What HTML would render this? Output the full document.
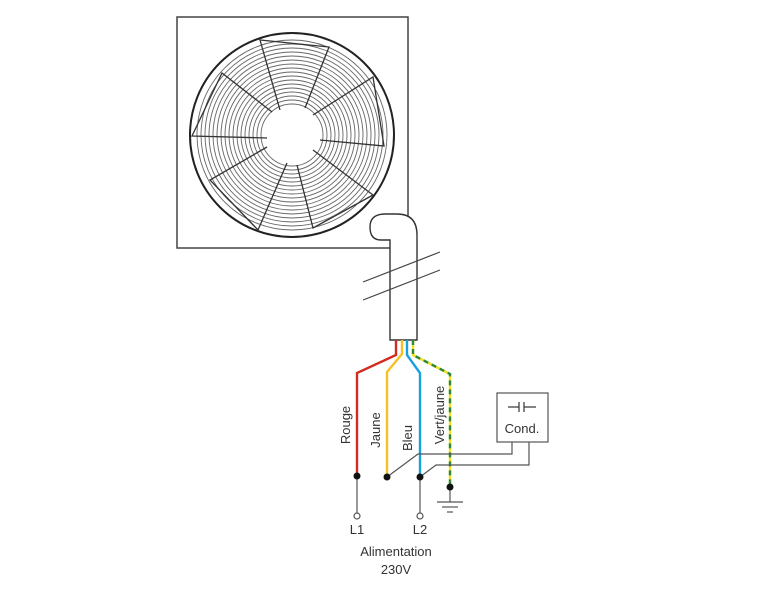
<!DOCTYPE html>
<html><head><meta charset="utf-8"><style>
html,body{margin:0;padding:0;background:#fff;}
svg{display:block;}
text{font-family:"Liberation Sans",sans-serif;fill:#333;}
</style></head><body>
<svg width="771" height="591" viewBox="0 0 771 591" xmlns="http://www.w3.org/2000/svg">
<rect x="177" y="17" width="231" height="231" fill="#fff" stroke="#444" stroke-width="1.5"/>
<g fill="none" stroke="#666" stroke-width="0.9">
<circle cx="292" cy="135" r="31"/><circle cx="292" cy="135" r="35"/><circle cx="292" cy="135" r="39"/><circle cx="292" cy="135" r="43"/><circle cx="292" cy="135" r="47"/><circle cx="292" cy="135" r="51"/><circle cx="292" cy="135" r="55"/><circle cx="292" cy="135" r="59"/><circle cx="292" cy="135" r="63"/><circle cx="292" cy="135" r="67"/><circle cx="292" cy="135" r="71"/><circle cx="292" cy="135" r="75"/><circle cx="292" cy="135" r="79"/><circle cx="292" cy="135" r="83"/><circle cx="292" cy="135" r="87"/><circle cx="292" cy="135" r="91"/><circle cx="292" cy="135" r="95"/>
</g>
<circle cx="292" cy="135" r="102" fill="none" stroke="#222" stroke-width="2"/>
<circle cx="292" cy="135" r="28" fill="#fff"/>
<g fill="none" stroke="#333" stroke-width="1.3">
<polyline points="280,110 260,40 329,47 305,108"/>
<polyline points="313,115 373,77 384,146 320,140"/>
<polyline points="313,150 373,195 313,228 297,165"/>
<polyline points="287,163 258,230 210,180 267,147"/>
<polyline points="267,138 192,136 222,73 272,112"/>
</g>
<path d="M390,340 V240 H381 Q370,240 370,227 Q370,214 385,214 H397 Q417,214 417,235 V340 Z" fill="#fff" stroke="#333" stroke-width="1.4"/>
<line x1="363" y1="282" x2="440" y2="252" stroke="#444" stroke-width="1.2"/>
<line x1="363" y1="300" x2="440" y2="270" stroke="#444" stroke-width="1.2"/>
<g fill="none" stroke-width="2.4">
<polyline points="396,340 396,355 357,373 357,476" stroke="#d42a1e"/>
<polyline points="402,340 402,354 387,372 387,477" stroke="#f5c020"/>
<polyline points="407,340 407,355 420,373 420,477" stroke="#1aa0e0"/>
<polyline points="413,340 413,355 450,374 450,487" stroke="#f0e020"/>
<polyline points="413,340 413,355 450,374 450,487" stroke="#2a8a3a" stroke-dasharray="5,4"/>
</g>
<g fill="none" stroke="#555" stroke-width="1.2">
<line x1="357" y1="476" x2="357" y2="513"/>
<line x1="420" y1="477" x2="420" y2="513"/>
<polyline points="512,442 512,454 418,454 387,477"/>
<polyline points="529,442 529,465 436,465 420,477"/>
<line x1="450" y1="487" x2="450" y2="502"/>
<line x1="437" y1="502" x2="463" y2="502"/>
<line x1="442" y1="507" x2="458" y2="507"/>
<line x1="447" y1="512" x2="453" y2="512"/>
</g>
<circle cx="357" cy="516" r="3" fill="#fff" stroke="#555" stroke-width="1.2"/>
<circle cx="420" cy="516" r="3" fill="#fff" stroke="#555" stroke-width="1.2"/>
<g fill="#111"><circle cx="357" cy="476" r="3.5"/><circle cx="387" cy="477" r="3.5"/><circle cx="420" cy="477" r="3.5"/><circle cx="450" cy="487" r="3.5"/></g>
<rect x="497" y="393" width="51" height="49" fill="#fff" stroke="#555" stroke-width="1.2"/>
<g stroke="#333" stroke-width="1.2"><line x1="508" y1="407" x2="519" y2="407"/><line x1="519" y1="402" x2="519" y2="412"/><line x1="524" y1="402" x2="524" y2="412"/><line x1="524" y1="407" x2="536" y2="407"/></g>
<text x="522" y="433" font-size="13" text-anchor="middle">Cond.</text>
<g font-size="13">
<text transform="translate(350,425) rotate(-90)" text-anchor="middle">Rouge</text>
<text transform="translate(380,430) rotate(-90)" text-anchor="middle">Jaune</text>
<text transform="translate(412,438) rotate(-90)" text-anchor="middle">Bleu</text>
<text transform="translate(444,415) rotate(-90)" text-anchor="middle">Vert/jaune</text>
<text x="357" y="534" text-anchor="middle">L1</text>
<text x="420" y="534" text-anchor="middle">L2</text>
<text x="396" y="556" text-anchor="middle">Alimentation</text>
<text x="396" y="574" text-anchor="middle">230V</text>
</g>
</svg>
</body></html>
